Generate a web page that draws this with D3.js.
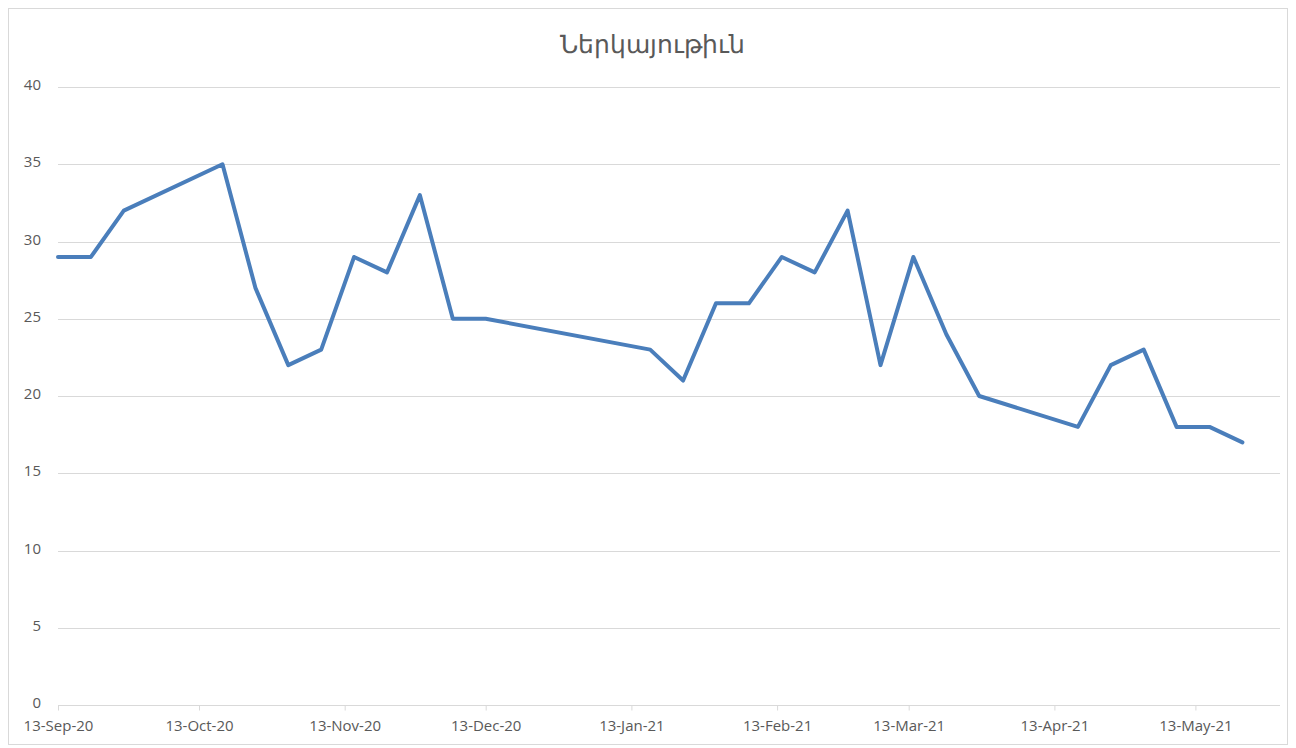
<!DOCTYPE html>
<html>
<head>
<meta charset="utf-8">
<script src="https://cdn.jsdelivr.net/npm/d3@7"></script>
<style>
  body { margin: 0; background: #fff; }
  svg { display: block; font-family: 'Open Sans', 'Noto Sans', sans-serif; }
</style>
</head>
<body>
<div id="chart"></div>
<script>
// weekly attendance
const dates = [
  '2020-09-13', '2020-09-20', '2020-09-27', '2020-10-18', '2020-10-25',
  '2020-11-01', '2020-11-08', '2020-11-15', '2020-11-22', '2020-11-29',
  '2020-12-06', '2020-12-13', '2021-01-17', '2021-01-24', '2021-01-31',
  '2021-02-07', '2021-02-14', '2021-02-21', '2021-02-28', '2021-03-07',
  '2021-03-14', '2021-03-21', '2021-03-28', '2021-04-18', '2021-04-25',
  '2021-05-02', '2021-05-09', '2021-05-16', '2021-05-23'
]
const values = [
  29, 29, 32, 35, 27,
  22, 23, 29, 28, 33,
  25, 25, 23, 21, 26,
  26, 29, 28, 32, 22,
  29, 24, 20, 18, 22,
  23, 18, 18, 17
]
const tickDates = [
  '2020-09-13', '2020-10-13', '2020-11-13', '2020-12-13', '2021-01-13',
  '2021-02-13', '2021-03-13', '2021-04-13', '2021-05-13'
]
const yTicks = [0, 5, 10, 15, 20, 25, 30, 35, 40]
const title = 'Ներկայութիւն'

const W = 1296
const H = 748
const margin = {top: 87, right: 16, bottom: 43, left: 58}

const parse = d3.utcParse('%Y-%m-%d')
const fmt = d3.utcFormat('%-d-%b-%y')
const data = dates.map((d, i) => ({date: parse(d), value: values[i]}))

const svg = d3.select('#chart').append('svg')
  .attr('width', W)
  .attr('height', H)

// chart area frame
svg.append('rect')
  .attr('x', 8.5).attr('y', 8.5)
  .attr('width', W - 17).attr('height', H - 12)
  .attr('fill', '#fff')
  .attr('stroke', '#d9d9d9')

const x = d3.scaleUtc()
  .domain([parse('2020-09-13'), parse('2021-05-31')])
  .range([margin.left, W - margin.right])
const y = d3.scaleLinear()
  .domain([0, 40])
  .range([H - margin.bottom, margin.top])

// grid
svg.append('g')
  .selectAll('line')
  .data(yTicks.filter(d => d > 0))
  .enter()
  .append('line')
  .attr('x1', margin.left)
  .attr('x2', W - margin.right)
  .attr('y1', d => Math.round(y(d)) + 0.5)
  .attr('y2', d => Math.round(y(d)) + 0.5)
  .attr('stroke', '#d9d9d9')

// y labels
svg.append('g')
  .selectAll('text')
  .data(yTicks)
  .enter()
  .append('text')
  .attr('x', 41)
  .attr('y', d => y(d) - 1)
  .attr('text-anchor', 'end')
  .attr('dominant-baseline', 'middle')
  .attr('fill', '#595959')
  .style('font-size', '15px')
  .text(d => d)

// x axis
const xAxis = svg.append('g')
  .attr('transform', `translate(0,${Math.round(y(0)) + 0.5})`)
  .call(d3.axisBottom(x)
    .tickValues(tickDates.map(parse))
    .tickFormat(fmt)
    .tickSize(5)
    .tickPadding(10))
xAxis.select('.domain').attr('stroke', '#d9d9d9').attr('d', `M${margin.left},0H${W - margin.right}`)
xAxis.selectAll('.tick line').attr('stroke', '#d9d9d9')
xAxis.selectAll('.tick text')
  .attr('fill', '#595959')
  .style('font-size', '15px')
  .style('font-family', "'Open Sans', 'Noto Sans', sans-serif")

// series line
const line = d3.line()
  .x(d => x(d.date))
  .y(d => y(d.value))
svg.append('path')
  .datum(data)
  .attr('d', line)
  .attr('fill', 'none')
  .attr('stroke', '#4a7ebb')
  .attr('stroke-width', 4)
  .attr('stroke-linejoin', 'round')
  .attr('stroke-linecap', 'round')

svg.append('text')
  .attr('x', W / 2 + 4)
  .attr('y', 53)
  .attr('text-anchor', 'middle')
  .attr('fill', '#595959')
  .style('font-size', '25px')
  .text(title)
</script>
</body>
</html>
